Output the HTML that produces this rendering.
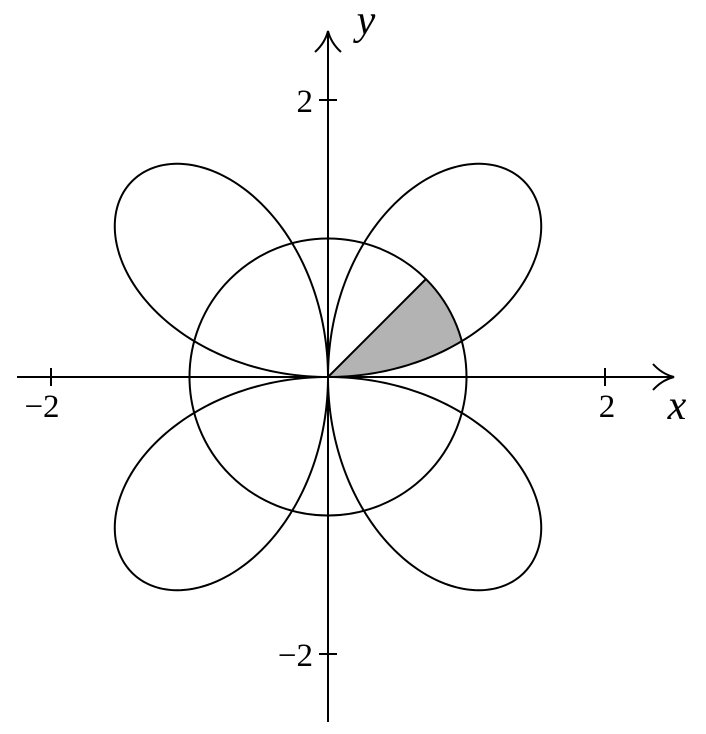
<!DOCTYPE html>
<html><head><meta charset="utf-8"><style>
html,body{margin:0;padding:0;background:#fff;}
svg{display:block;}
text{font-family:"Liberation Serif",serif;fill:#000;}
</style></head><body>
<svg id="s" width="706" height="734" viewBox="0 0 706 734" xmlns="http://www.w3.org/2000/svg">
<path id="shade" fill="#b3b3b3" stroke="none"/>
<line x1="328" y1="377" x2="426" y2="279" stroke="#000" stroke-width="2"/>
<circle cx="328" cy="377" r="138.5" fill="none" stroke="#000" stroke-width="2"/>
<path id="rose" fill="none" stroke="#000" stroke-width="2"/>
<line x1="17" y1="377" x2="672" y2="377" stroke="#000" stroke-width="2"/>
<line x1="328" y1="722" x2="328" y2="34" stroke="#000" stroke-width="2"/>
<path d="M653,364 Q662,374 674,377 Q662,380 653,390" fill="none" stroke="#000" stroke-width="2"/>
<path d="M315,52 Q325,43 328,31 Q331,43 341,52" fill="none" stroke="#000" stroke-width="2"/>
<line x1="51" y1="368" x2="51" y2="386" stroke="#000" stroke-width="2"/>
<line x1="605" y1="368" x2="605" y2="386" stroke="#000" stroke-width="2"/>
<line x1="319" y1="100" x2="337" y2="100" stroke="#000" stroke-width="2"/>
<line x1="319" y1="654" x2="337" y2="654" stroke="#000" stroke-width="2"/>
<text x="42" y="417" font-size="33" text-anchor="middle">−2</text>
<text x="607" y="417" font-size="33" text-anchor="middle">2</text>
<text x="313" y="112" font-size="33" text-anchor="end">2</text>
<text x="313" y="666" font-size="33" text-anchor="end">−2</text>
<text x="677" y="419" font-size="42" font-style="italic" text-anchor="middle">x</text>
<text x="366" y="34" font-size="42" font-style="italic" text-anchor="middle">y</text>
</svg>
<script>
var cx=328,cy=377,s=138.5,d="";
for(var i=0;i<=720;i++){var t=i/720*2*Math.PI,r=2*Math.sin(2*t);
d+=(i?"L":"M")+(cx+s*r*Math.cos(t)).toFixed(2)+","+(cy-s*r*Math.sin(t)).toFixed(2);}
document.getElementById("rose").setAttribute("d",d+"Z");
var p="M"+cx+","+cy;
for(var i=0;i<=60;i++){var t=(15*i/60)*Math.PI/180,r=2*Math.sin(2*t);
p+="L"+(cx+s*r*Math.cos(t)).toFixed(2)+","+(cy-s*r*Math.sin(t)).toFixed(2);}
for(var i=0;i<=60;i++){var t=(15+30*i/60)*Math.PI/180;
p+="L"+(cx+s*Math.cos(t)).toFixed(2)+","+(cy-s*Math.sin(t)).toFixed(2);}
document.getElementById("shade").setAttribute("d",p+"Z");
</script>
</body></html>
